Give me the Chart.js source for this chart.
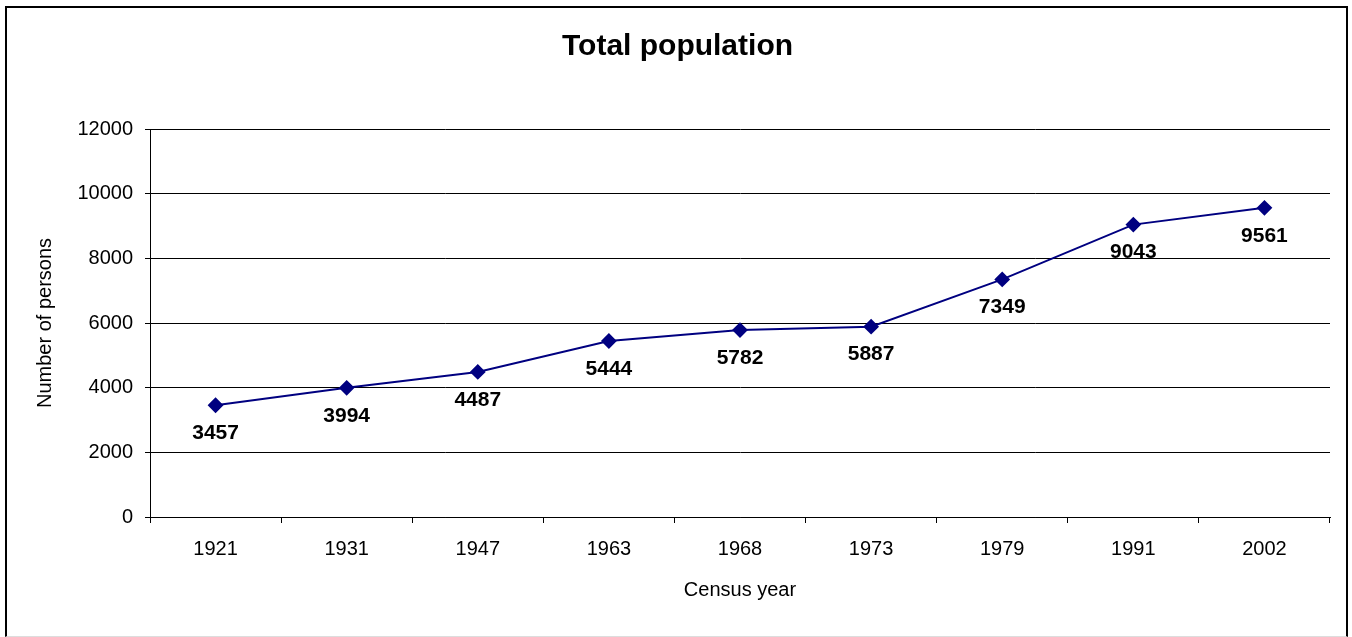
<!DOCTYPE html>
<html>
<head>
<meta charset="utf-8">
<script src="https://cdn.jsdelivr.net/npm/chart.js@4/dist/chart.umd.min.js"></script>
<style>
  html, body { margin: 0; padding: 0; background: #fff; }
  #wrap { position: relative; width: 1352px; height: 637px; }
  #frame {
    position: absolute; left: 5px; top: 6px; width: 1339px; height: 628px;
    border: 2px solid #000; border-bottom: 1px solid #ddd; pointer-events: none;
  }
  canvas { position: absolute; left: 0; top: 0; }
</style>
</head>
<body>
<div id="wrap">
  <canvas id="popChart" width="1352" height="637"></canvas>
  <div id="frame"></div>
</div>
<script>
const years = ["1921", "1931", "1947", "1963", "1968", "1973", "1979", "1991", "2002"];
const population = [3457, 3994, 4487, 5444, 5782, 5887, 7349, 9043, 9561];
const yTicks = [0, 2000, 4000, 6000, 8000, 10000, 12000];

const fontFam = "'Liberation Sans', Arial, sans-serif";

// value labels under each point
const valueLabels = {
  id: "valueLabels",
  afterDatasetsDraw(chart) {
    const ctx = chart.ctx;
    const meta = chart.getDatasetMeta(0);
    ctx.save();
    ctx.font = "bold 21px " + fontFam;
    ctx.fillStyle = "#000";
    ctx.textAlign = "center";
    ctx.textBaseline = "middle";
    meta.data.forEach((pt, i) => {
      ctx.fillText(String(population[i]), pt.x, pt.y + 28);
    });
    ctx.restore();
  }
};

new Chart(document.getElementById("popChart"), {
  type: "line",
  data: {
    labels: years,
    datasets: [{
      label: "Total population",
      data: population,
      borderColor: "#000080",
      backgroundColor: "#000080",
      borderWidth: 2,
      pointStyle: "rectRot",
      pointRadius: 6.5,
      pointHoverRadius: 6.5,
      tension: 0,
      fill: false
    }]
  },
  options: {
    responsive: false,
    animation: false,
    layout: { padding: { left: 25, right: 22, top: 12, bottom: 20 } },
    plugins: {
      legend: { display: false },
      tooltip: { enabled: false },
      title: {
        display: true,
        text: "Total population",
        color: "#000",
        font: { family: fontFam, size: 30, weight: "bold" },
        padding: { top: 17, bottom: 64 }
      }
    },
    scales: {
      x: {
        offset: true,
        afterFit(s) { s.height = 100; },
        grid: {
          offset: true,
          drawOnChartArea: false,
          drawTicks: true,
          tickLength: 6,
          color: "#000"
        },
        border: { color: "#000", width: 1 },
        ticks: {
          color: "#000",
          padding: 14,
          maxRotation: 0,
          font: { family: fontFam, size: 20 }
        },
        title: {
          display: true,
          text: "Census year",
          color: "#000",
          font: { family: fontFam, size: 20 },
          padding: { top: 0, bottom: 15 }
        }
      },
      y: {
        min: 0,
        max: 12000,
        afterFit(s) { s.width = 125; },
        afterBuildTicks(s) { s.ticks = yTicks.map(v => ({ value: v })); },
        grid: {
          color: "#000",
          lineWidth: 1,
          drawTicks: true,
          tickLength: 5
        },
        border: { color: "#000", width: 1 },
        ticks: {
          color: "#000",
          padding: 12,
          font: { family: fontFam, size: 20 },
          callback: v => String(v)
        },
        title: {
          display: true,
          text: "Number of persons",
          color: "#000",
          font: { family: fontFam, size: 20 },
          padding: { top: 8, bottom: 0 }
        }
      }
    }
  },
  plugins: [valueLabels]
});
</script>
</body>
</html>
